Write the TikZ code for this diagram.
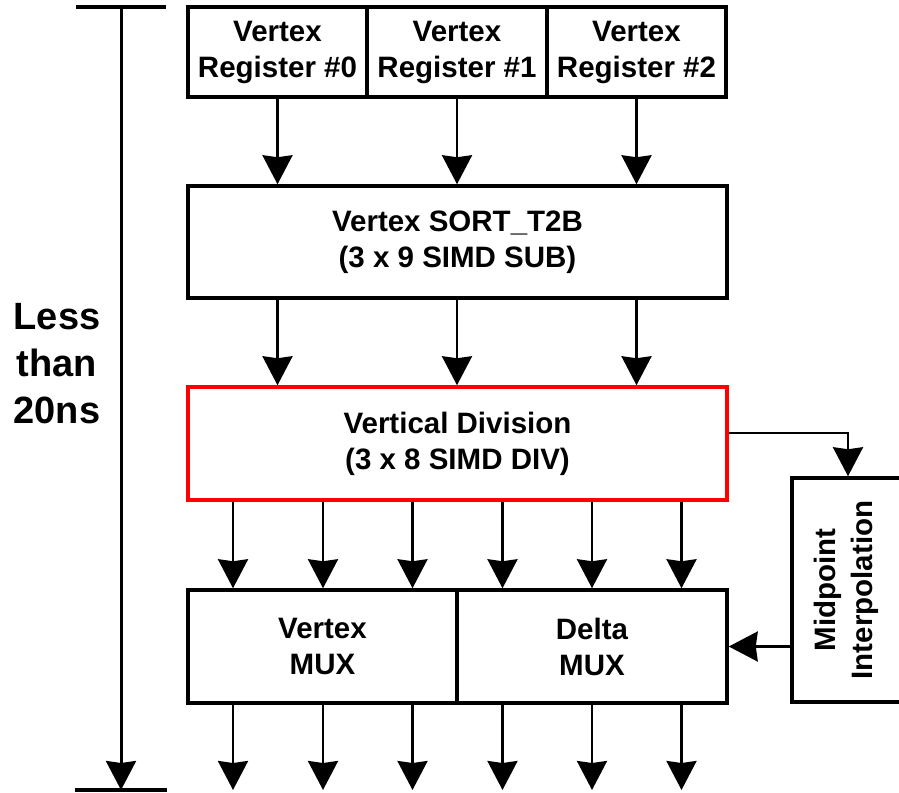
\documentclass[tikz,border=0pt]{standalone}
\usepackage{fontspec}
\setmainfont{Liberation Sans}
\usetikzlibrary{arrows.meta}
\begin{document}
\begin{tikzpicture}[x=1pt,y=-1pt,
  box/.style={draw=black, line width=3.5pt, fill=white, inner sep=0pt, align=center,
    font=\bfseries\fontsize{29.5}{36}\selectfont},
  arr/.style={line width=2.5pt, -{Stealth[length=29pt,width=30pt,inset=2pt]}},
  tick/.style={line width=3.5pt},
]
\useasboundingbox (0,0) rectangle (899,792);

% registers
\node[box, minimum width=179pt, minimum height=90pt] (r0) at (277.5,52) {Vertex\\Register \#0};
\node[box, minimum width=180pt, minimum height=90pt] (r1) at (457,52) {Vertex\\Register \#1};
\node[box, minimum width=179pt, minimum height=90pt] (r2) at (636.5,52) {Vertex\\Register \#2};

% sort
\node[box, minimum width=539pt, minimum height=112pt] (sort) at (457.5,242) {Vertex SORT\_T2B\\(3 x 9 SIMD SUB)};

% division
\node[box, draw=red, minimum width=539pt, minimum height=113pt] (div) at (457.5,443.5) {Vertical Division\\(3 x 8 SIMD DIV)};

% mux
\node[box, minimum width=269pt, minimum height=113pt] (muxV) at (322.5,646.5) {Vertex\\MUX};
\node[box, minimum width=270pt, minimum height=113pt] (muxD) at (592,646.5) {Delta\\MUX};

% midpoint
\node[box, minimum width=116pt, minimum height=224pt] (mid) at (850,590) {};
\node[rotate=90, align=center, inner sep=0pt, font=\bfseries\fontsize{29.5}{37}\selectfont] (midtxt) at (846.5,590) {Midpoint\\Interpolation};

% arrows registers -> sort -> div
\foreach \n in {r0,r1,r2}{
  \draw[arr] (\n.south) -- (sort.north -| \n);
  \draw[arr] (sort.south -| \n) -- (div.north -| \n);
}

% six columns
\foreach \i/\x in {1/233,2/323,3/412.5,4/502.5,5/592,6/681.5}{
  \coordinate (c\i) at (\x,0);
  \coordinate (o\i) at (\x,790);
}
\foreach \i/\m in {1/muxV,2/muxV,3/muxV,4/muxD,5/muxD,6/muxD}{
  \draw[arr] (div.south -| c\i) -- (\m.north -| c\i);
  \draw[arr] (\m.south -| c\i) -- (o\i);
}

% midpoint connectors
\draw[arr] ([yshift=10.5pt]div.east) -| ([xshift=-2pt]mid.north);
\draw[arr] (mid.west |- muxD.east) -- (muxD.east);

% timing scale
\coordinate (sTop) at (121,7);
\coordinate (sBot) at (121,790);
\coordinate (tTL) at (76,7);
\coordinate (tTR) at (166,7);
\coordinate (tBL) at (75,790);
\coordinate (tBR) at (167,790);
\draw[tick] (tTL) -- (tTR);
\draw[tick] (tBL) -- (tBR);
\draw[arr, line width=3pt] (sTop) -- (sBot);

\node[align=center, inner sep=0pt, font=\bfseries\fontsize{38}{47}\selectfont] (lbl) at (57,364) {Less\\than\\20ns};
\end{tikzpicture}
\end{document}
